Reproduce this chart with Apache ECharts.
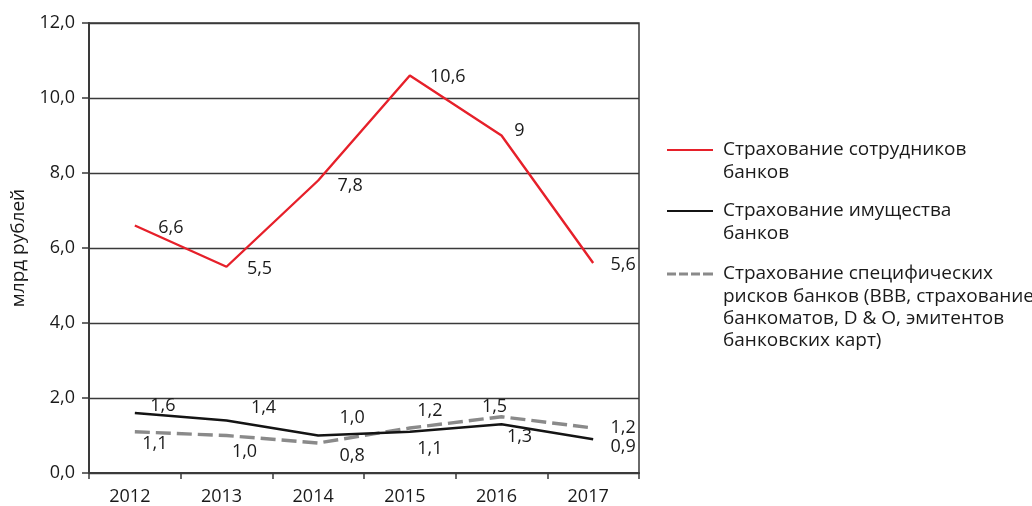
<!DOCTYPE html>
<html><head><meta charset="utf-8">
<script src="https://cdn.jsdelivr.net/npm/echarts@6/dist/echarts.min.js"></script>
<style>html,body{margin:0;padding:0;background:#fff}#c{width:1032px;height:506px}</style>
</head><body><div id="c"></div>
<script>
// ---- data ----
const years = ['2012', '2013', '2014', '2015', '2016', '2017'];
const staffValues = [6.6, 5.5, 7.8, 10.6, 9, 5.6];
const propertyValues = [1.6, 1.4, 1.0, 1.1, 1.3, 0.9];
const specificValues = [1.1, 1.0, 0.8, 1.2, 1.5, 1.2];
const seriesNames = [
  'Страхование сотрудников банков',
  'Страхование имущества банков',
  'Страхование специфических рисков банков (BBB, страхование банкоматов, D & O, эмитентов банковских карт)'
];
const legendLines = [
  ['Страхование сотрудников', 'банков'],
  ['Страхование имущества', 'банков'],
  ['Страхование специфических', 'рисков банков (BBB, страхование', 'банкоматов, D & O, эмитентов', 'банковских карт)']
];
const yAxisTitle = 'млрд рублей';

// ---- label placement (styling, not data) ----
const staffLabelOffset = [[36, 2], [33, 2], [32, 5], [38, 1], [18, -5], [30, 2]];
const propertyLabelOffset = [[28, -7], [37, -13], [34, -18], [20, 17], [18, 13], [30, 8]];
const specificLabelOffset = [[20, 12], [18, 16], [34, 13], [20, -17], [-7, -10], [30, 0]];

const FONT = '"Open Sans", "Noto Sans", sans-serif';
const FS = 18;
const FS_LEG = 19;
const TXT = '#1a1a1a';
const AX = '#3a3a3a';
const colors = ['#e6202a', '#141414', '#8a8a8a'];

function withLabels(values, offsets) {
  return values.map((v, i) => ({
    value: v,
    label: { offset: offsets[i] }
  }));
}
const fmtRaw = p => String(p.value).replace('.', ',');
const fmtFixed = p => Number(p.value).toFixed(1).replace('.', ',');

const labelBase = {
  show: true, position: 'inside', color: TXT, fontSize: FS, fontFamily: FONT
};

function legendFor(i, iconY, lh) {
  const lines = legendLines[i];
  const pad = new Array(lines.length - 1).fill('').join('\n');
  const text = (lines.length > 1 ? pad + '\n' : '') + lines.join('\n');
  const total = (2 * lines.length - 1) * lh;
  const icons = ['rect', 'rect', 'path://M0,0h9v3h-9z M12,0h9v3h-9z M24,0h9v3h-9z M36,0h10v3h-10z'];
  return {
    show: true, left: 667, top: iconY - total / 2, padding: 0, orient: 'vertical',
    selectedMode: false,
    itemWidth: 46, itemHeight: i === 2 ? 3 : 2,
    data: [{ name: seriesNames[i], icon: icons[i] }],
    formatter: () => text,
    textStyle: { color: TXT, fontSize: FS_LEG, fontFamily: FONT, lineHeight: lh, padding: [0, 0, 0, 5] }
  };
}

const chart = echarts.init(document.getElementById('c'), null, { renderer: 'canvas' });
chart.setOption({
  animation: false,
  color: colors,
  textStyle: { fontFamily: FONT },
  grid: { left: 89, top: 23, right: 393, bottom: 33, show: true, borderColor: AX, borderWidth: 1.5, containLabel: false },
  legend: [
    legendFor(0, 150, 23),
    legendFor(1, 211, 23),
    legendFor(2, 274, 22.3)
  ],
  xAxis: {
    type: 'category', data: years, boundaryGap: true,
    axisLine: { show: true, lineStyle: { color: AX, width: 2 } },
    axisTick: { show: true, length: 6, alignWithLabel: false, lineStyle: { color: AX, width: 1.5 } },
    axisLabel: { color: TXT, fontSize: FS, fontFamily: FONT, margin: 15, padding: [0, 10, 0, 0] },
    splitLine: { show: false }
  },
  yAxis: {
    type: 'value', min: 0, max: 12, interval: 2,
    name: yAxisTitle, nameLocation: 'middle', nameGap: 58,
    nameTextStyle: { color: TXT, fontSize: FS_LEG, fontFamily: FONT },
    axisLine: { show: true, lineStyle: { color: AX, width: 2 } },
    axisTick: { show: true, length: 7, lineStyle: { color: AX, width: 1.5 } },
    axisLabel: { color: TXT, fontSize: FS, fontFamily: FONT, margin: 14,
      formatter: v => v.toFixed(1).replace('.', ',') },
    splitLine: { show: true, lineStyle: { color: AX, width: 1.3 } }
  },
  series: [
    {
      name: seriesNames[0], type: 'line', data: withLabels(staffValues, staffLabelOffset),
      symbol: 'circle', symbolSize: 0, showSymbol: true,
      lineStyle: { color: colors[0], width: 2.4 }, itemStyle: { color: colors[0] },
      label: Object.assign({}, labelBase, { formatter: fmtRaw }), z: 4
    },
    {
      name: seriesNames[1], type: 'line', data: withLabels(propertyValues, propertyLabelOffset),
      symbol: 'circle', symbolSize: 0, showSymbol: true,
      lineStyle: { color: colors[1], width: 2.4 }, itemStyle: { color: colors[1] },
      label: Object.assign({}, labelBase, { formatter: fmtFixed }), z: 3
    },
    {
      name: seriesNames[2], type: 'line', data: withLabels(specificValues, specificLabelOffset),
      symbol: 'circle', symbolSize: 0, showSymbol: true,
      lineStyle: { color: colors[2], width: 3.4, type: [15, 6] }, itemStyle: { color: colors[2] },
      label: Object.assign({}, labelBase, { formatter: fmtFixed }), z: 2
    }
  ]
});
</script>
</body></html>
